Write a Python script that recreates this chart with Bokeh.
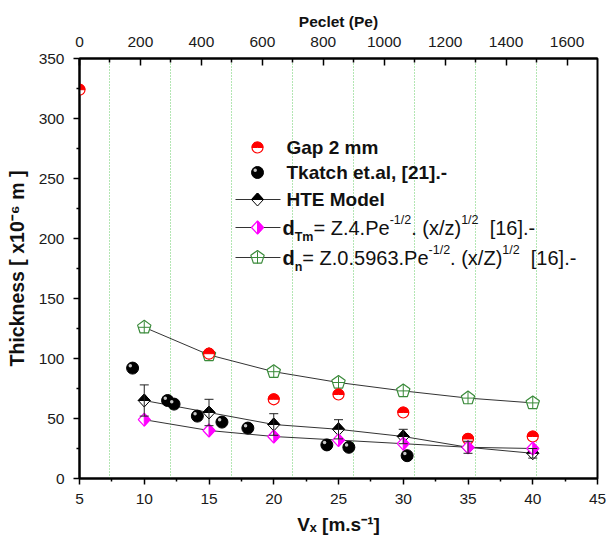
import math
from bokeh.plotting import figure
from bokeh.models import Range1d, LinearAxis, FixedTicker, Grid, Label
from bokeh.embed import file_html
from bokeh.resources import INLINE

# ---------------- data ----------------
VX = [10, 15, 20, 25, 30, 35, 40]
HTE_MODEL = [65, 55, 45, 41, 35, 26, 21]
HTE_ERR = [13, 11, 9, 8, 6, 5, 4]
D_TM = [49, 40, 35, 32, 29, 26, 25]
D_N = [126, 103, 89, 80, 73, 67, 63]
GAP_VX = [5, 15, 20, 25, 30, 35, 40]
GAP_2MM = [324, 104, 66, 70, 55, 33, 35]
TKATCH_VX = [9.1, 11.8, 12.3, 14.1, 16.0, 18.0, 24.1, 25.8, 30.3]
TKATCH = [92, 65, 62, 52, 47, 42, 28, 26, 19]

X_TICKS = [5, 10, 15, 20, 25, 30, 35, 40, 45]
X_MINOR = [7.5, 12.5, 17.5, 22.5, 27.5, 32.5, 37.5, 42.5]
Y_TICKS = [0, 50, 100, 150, 200, 250, 300, 350]
Y_MINOR = [25, 75, 125, 175, 225, 275, 325]
PE_TICKS = [0, 200, 400, 600, 800, 1000, 1200, 1400, 1600]
PE_MINOR = [100, 300, 500, 700, 900, 1100, 1300, 1500]

LEGEND_LABELS = ["Gap 2 mm", "Tkatch et.al, [21].-", "HTE Model"]
X_TITLE = "V\u2093 [m.s\u207b\u00b9]"
Y_TITLE = "Thickness [ x10\u207b\u2076 m ]"
TOP_TITLE = "Peclet (Pe)"

# ---------------- layout ----------------
W, H = 607, 548
L, R, T, B = 79, 10, 58, 70
FW, FH = W - L - R, H - T - B
XMIN, XMAX, YMIN, YMAX, PEMAX = 5, 45, 0, 350, 1700
SX = (XMAX - XMIN) / FW
SY = (YMAX - YMIN) / FH

RED = "#ff0000"
MAG = "#ff00ff"
GREEN = "#3a8a3a"
LINE_C = "#333333"
FONT = "Liberation Sans"


def cx(px):
    return XMIN + (px - L) * SX


def cy(py):
    return YMIN + (H - B - py) * SY


REG_W = {' ': 278, '(': 333, ')': 333, '-': 333, '.': 278, '/': 278, '=': 584,
         '[': 278, ']': 278, 'P': 667, 'Z': 611, 'e': 556, 'x': 500, 'z': 500, ',': 278}
BOLD_W = {' ': 278, '[': 333, ']': 333, '-': 333, '.': 278, ',': 278, 'G': 778, 'a': 556,
          'p': 611, 'm': 889, 'T': 611, 'k': 556, 't': 333, 'c': 556, 'h': 611, 'e': 556,
          'l': 278, 'H': 722, 'E': 667, 'M': 833, 'o': 611, 'd': 611, 'n': 611, 'V': 667,
          'x': 556, 's': 556, 'i': 278, '(': 333, ')': 333, 'P': 667}


def tw(s, size, bold):
    table = BOLD_W if bold else REG_W
    return sum(table.get(ch, 556) for ch in s) * size / 1000.0


p = figure(width=W, height=H, x_range=Range1d(XMIN, XMAX), y_range=Range1d(YMIN, YMAX),
           output_backend="svg", toolbar_location=None,
           min_border_left=L, min_border_right=R, min_border_top=T, min_border_bottom=B,
           background_fill_color="white", border_fill_color="white")
p.extra_x_ranges = {"pe": Range1d(0, PEMAX)}
p.xgrid.visible = False
p.ygrid.visible = False
p.outline_line_color = "black"
p.outline_line_width = 2

xa = p.below[0]
ya = p.left[0]
xa.ticker = FixedTicker(ticks=X_TICKS, minor_ticks=X_MINOR)
ya.ticker = FixedTicker(ticks=Y_TICKS, minor_ticks=Y_MINOR)
top = LinearAxis(x_range_name="pe", ticker=FixedTicker(ticks=PE_TICKS, minor_ticks=PE_MINOR))
p.add_layout(top, "above")

for ax in (xa, ya, top):
    ax.axis_line_width = 2
    ax.axis_line_color = "black"
    ax.major_tick_line_color = "black"
    ax.minor_tick_line_color = "black"
    ax.major_tick_line_width = 1.5
    ax.minor_tick_line_width = 1.5
    ax.major_label_text_font = FONT
    ax.major_label_text_font_size = "15.5px"
    ax.major_label_text_color = "#1a1a1a"
    ax.axis_label_text_font = FONT
    ax.axis_label_text_font_style = "bold"
    ax.axis_label_text_color = "#111111"
for ax in (xa, ya):
    ax.major_tick_out = 6
    ax.major_tick_in = 0
    ax.minor_tick_out = 3
    ax.minor_tick_in = 0
    ax.major_label_standoff = 9
top.major_tick_in = 7
top.major_tick_out = 0
top.minor_tick_in = 4
top.minor_tick_out = 0
top.major_label_standoff = 12

xa.axis_label = X_TITLE
xa.axis_label_text_font_size = "19px"
xa.axis_label_standoff = 7
ya.axis_label = Y_TITLE
ya.axis_label_text_font_size = "19.5px"
ya.axis_label_standoff = 8
top.axis_label = TOP_TITLE
top.axis_label_text_font_size = "15.5px"
top.axis_label_standoff = 4

grid = Grid(dimension=0, ticker=FixedTicker(ticks=PE_MINOR), x_range_name="pe",
            grid_line_color="#66cc66", grid_line_dash="1 2", grid_line_width=1)
p.add_layout(grid)

# ---------------- marker shapes (pixel offsets) ----------------
DIAMOND = [(-6, 0), (0, 6.5), (6, 0), (0, -6.5)]
DIA_TOP = [(-6, 0), (0, 6.5), (6, 0)]
DIA_RIGHT = [(0, 6.5), (6, 0), (0, -6.5)]
PENT = [(7 * math.cos(math.radians(90 + 72 * k)), 7 * math.sin(math.radians(90 + 72 * k)))
        for k in range(5)]


def shape(xs, ys, verts):
    px = [[x + vx * SX for vx, vy in verts] for x in xs]
    py = [[y + vy * SY for vx, vy in verts] for y in ys]
    return px, py


def draw_gap(xs, ys):
    p.scatter(xs, ys, marker="circle", size=11, fill_color="white", line_color=None)
    p.wedge(x=xs, y=ys, radius=5.5, radius_units="screen", start_angle=0, end_angle=math.pi,
            fill_color=RED, line_color=RED, line_width=1)
    p.scatter(xs, ys, marker="circle", size=11, fill_color=None, line_color=RED, line_width=1.2)


def draw_sphere(xs, ys):
    p.scatter(xs, ys, marker="circle", size=12, fill_color="black", line_color="black")
    p.scatter([x - 2.3 * SX for x in xs], [y + 2.3 * SY for y in ys], marker="circle",
              size=3.5, fill_color="#c8c8c8", line_color=None)


def draw_hte(xs, ys):
    a, b = shape(xs, ys, DIAMOND)
    p.patches(a, b, fill_color="white", line_color="black", line_width=1)
    a, b = shape(xs, ys, DIA_TOP)
    p.patches(a, b, fill_color="black", line_color="black", line_width=1)


def draw_dtm(xs, ys):
    a, b = shape(xs, ys, DIAMOND)
    p.patches(a, b, fill_color="white", line_color=MAG, line_width=1.2)
    a, b = shape(xs, ys, DIA_RIGHT)
    p.patches(a, b, fill_color=MAG, line_color=MAG, line_width=1)


def draw_dn(xs, ys):
    a, b = shape(xs, ys, PENT)
    p.patches(a, b, fill_color="white", line_color=GREEN, line_width=1.2)
    p.scatter(xs, ys, marker="cross", size=12, line_color=GREEN, line_width=1)


# ---------------- data series ----------------
p.line(VX, D_N, line_color=LINE_C, line_width=1)
p.line(VX, HTE_MODEL, line_color=LINE_C, line_width=1)
p.line(VX, D_TM, line_color=LINE_C, line_width=1)

draw_dn(VX, D_N)
draw_gap(GAP_VX, GAP_2MM)
draw_sphere(TKATCH_VX, TKATCH)
draw_hte(VX, HTE_MODEL)
draw_dtm(VX, D_TM)

upper = [v + e for v, e in zip(HTE_MODEL, HTE_ERR)]
lower = [v - e for v, e in zip(HTE_MODEL, HTE_ERR)]
p.segment(VX, lower, VX, upper, line_color="#222222", line_width=1)
p.scatter(VX, upper, marker="dash", size=9, line_color="#222222", line_width=1)
p.scatter(VX, lower, marker="dash", size=9, line_color="#222222", line_width=1)

# ---------------- text helpers (legend texts, inside the frame) ----------------


def make_label(t, x, y, size, bold):
    lab = Label(x=cx(x), y=cy(y))
    lab.text = t
    lab.text_font = FONT
    lab.text_font_size = "%spx" % size
    lab.text_font_style = "bold" if bold else "normal"
    lab.text_color = "#111111"
    lab.text_align = "left"
    lab.text_baseline = "middle"
    p.add_layout(lab)


def run(pieces, start, center):
    pos = start
    for txt, size, bold, off in pieces:
        lead = len(txt) - len(txt.lstrip(' '))
        pos += tw(' ' * lead, size, bold)
        t = txt.lstrip(' ')
        make_label(t, pos, center + off, size, bold)
        pos += tw(t, size, bold)


# ---------------- legend ----------------
ROW_Y = [147, 172, 199, 227, 257]
KEY_X = 257
KEY_L, KEY_R = 235, 280
TEXT_X = 286
FORM_X = 282

draw_gap([cx(KEY_X)], [cy(ROW_Y[0])])
draw_sphere([cx(KEY_X)], [cy(ROW_Y[1])])
for r in (2, 3, 4):
    p.line([cx(KEY_L), cx(KEY_R)], [cy(ROW_Y[r]), cy(ROW_Y[r])], line_color=LINE_C, line_width=1)
draw_hte([cx(KEY_X)], [cy(ROW_Y[2])])
draw_dtm([cx(KEY_X)], [cy(ROW_Y[3])])
draw_dn([cx(KEY_X)], [cy(ROW_Y[4])])

for i, name in enumerate(LEGEND_LABELS):
    run([(name, 19, True, 0)], TEXT_X, ROW_Y[i])

run([("d", 20, True, 0), ("Tm", 12.5, True, 9), ("= Z.4.Pe", 20, False, 0),
     ("-1/2", 12.5, False, -8), (". (x/z)", 20, False, 0), ("1/2", 12.5, False, -8),
     ("  [16].-", 20, False, 0)], FORM_X, ROW_Y[3])
run([("d", 20, True, 0), ("n", 12.5, True, 9), ("= Z.0.5963.Pe", 20, False, 0),
     ("-1/2", 12.5, False, -8), (". (x/Z)", 20, False, 0), ("1/2", 12.5, False, -8),
     ("  [16].-", 20, False, 0)], FORM_X, ROW_Y[4])

open("out.html", "w").write(file_html(p, INLINE))
